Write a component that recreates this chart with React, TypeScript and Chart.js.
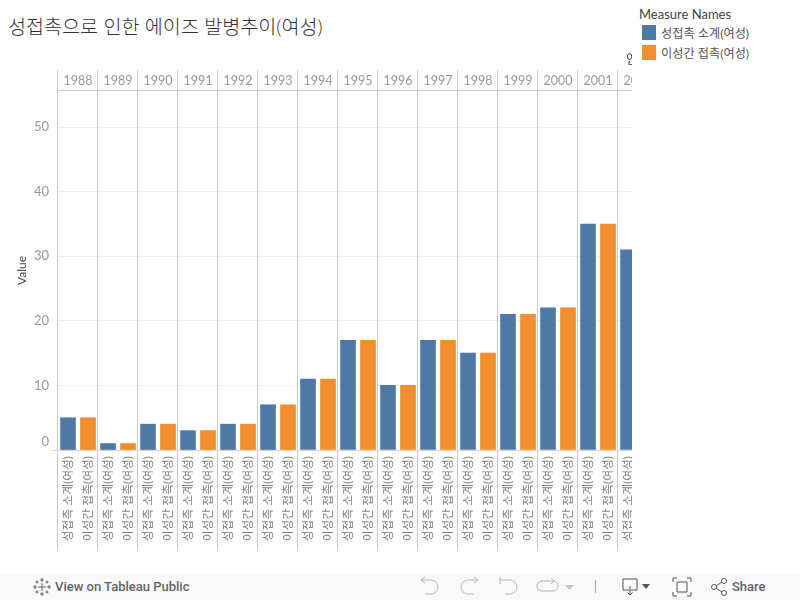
import React, { useEffect, useRef } from "react";
import { Chart, registerables } from "chart.js";

Chart.register(...registerables);

const years = ["1988","1989","1990","1991","1992","1993","1994","1995","1996","1997","1998","1999","2000","2001","2002"];
const seriesTotal = [5, 1, 4, 3, 4, 7, 11, 17, 10, 17, 15, 21, 22, 35, 31];
const seriesHetero = [5, 1, 4, 3, 4, 7, 11, 17, 10, 17, 15, 21, 22, 35, 31];
const nameTotal = "성접촉 소계(여성)";
const nameHetero = "이성간 접촉(여성)";
const titleText = "성접촉으로 인한 에이즈 발병추이(여성)";
const headerTitle = "연도";
const yTicks = [0, 10, 20, 30, 40, 50];

const BLUE = "#4e79a7";
const ORANGE = "#f28e2b";
const FONT = 'Lato, "Noto Sans CJK KR", sans-serif';

const categories = years.flatMap((y) => [y + "|" + nameTotal, y + "|" + nameHetero]);
const blueData = years.flatMap((_, i) => [seriesTotal[i], null]);
const orangeData = years.flatMap((_, i) => [null, seriesHetero[i]]);

const framePlugin = {
  id: "frame",
  beforeDatasetsDraw(chart: any) {
    const { ctx, chartArea, scales } = chart;
    const yearAxis = scales.yearAxis;
    const half = (yearAxis.getPixelForTick(1) - yearAxis.getPixelForTick(0)) / 2;
    ctx.save();
    ctx.strokeStyle = "#c8c8c8";
    ctx.lineWidth = 1;
    ctx.beginPath();
    years.forEach((_, i) => {
      const x = Math.round(yearAxis.getPixelForTick(i) - half) + 0.5;
      ctx.moveTo(x - 1, 70);
      ctx.lineTo(x - 1, 550);
    });
    ctx.moveTo(chartArea.left - 1, Math.round(chartArea.top) - 0.5);
    ctx.lineTo(chart.width, Math.round(chartArea.top) - 0.5);
    ctx.stroke();
    ctx.restore();
  },
  afterDatasetsDraw(chart: any) {
    const { ctx, chartArea, scales } = chart;
    ctx.save();
    ctx.strokeStyle = "#d4d4d4";
    ctx.lineWidth = 1;
    ctx.beginPath();
    ctx.moveTo(52, Math.round(chartArea.bottom) + 0.5);
    ctx.lineTo(chart.width, Math.round(chartArea.bottom) + 0.5);
    ctx.stroke();
    ctx.fillStyle = "#999999";
    ctx.font = "13px " + FONT;
    ctx.textAlign = "right";
    ctx.textBaseline = "middle";
    ctx.fillText("0", 49, scales.y.getPixelForValue(0) - 8);
    ctx.fillStyle = "#333333";
    ctx.textAlign = "left";
    ctx.font = "12px " + FONT;
    ctx.fillText(headerTitle, 626, 60);
    ctx.restore();
  },
};

function Icon({ x, children }: { x: number; children: React.ReactNode }) {
  return (
    <svg width="28" height="24" viewBox="0 0 28 24" style={{ position: "absolute", left: x, top: 2 }}
      fill="none" stroke="#b5b5b5" strokeWidth="1">
      {children}
    </svg>
  );
}

export default function App() {
  const ref = useRef<HTMLCanvasElement>(null);
  useEffect(() => {
    const chart = new Chart(ref.current!, {
      type: "bar",
      data: {
        labels: categories,
        datasets: [
          { label: nameTotal, data: blueData, backgroundColor: BLUE, barThickness: 15, stack: "s" },
          { label: nameHetero, data: orangeData, backgroundColor: ORANGE, barThickness: 15, stack: "s" },
        ],
      },
      options: {
        animation: false,
        responsive: false,
        layout: { padding: { left: 0, right: 0, top: 70, bottom: 50 } },
        plugins: { legend: { display: false }, title: { display: false }, tooltip: { enabled: false } },
        scales: {
          x: {
            stacked: true,
            position: "bottom",
            grid: { display: false, drawTicks: false },
            border: { display: false },
            afterFit: (s: any) => { s.height = 100; s.paddingLeft = 0; s.paddingRight = 0; },
            ticks: {
              autoSkip: false, minRotation: 90, maxRotation: 90, padding: 6, color: "#808080",
              font: { family: FONT, size: 11.8 },
              callback(this: any, v: any) { return String(this.getLabelForValue(v)).split("|")[1]; },
            },
          },
          yearAxis: {
            type: "category",
            labels: years,
            position: "top",
            grid: { display: false, drawTicks: false },
            border: { display: false },
            afterFit: (s: any) => { s.height = 21; s.paddingLeft = 0; s.paddingRight = 0; },
            ticks: { autoSkip: false, maxRotation: 0, color: "#999999", padding: 3, font: { family: FONT, size: 12.5 } },
          },
          y: {
            stacked: true,
            min: 0,
            max: 55.6,
            position: "left",
            afterFit: (s: any) => { s.width = 58; },
            afterBuildTicks: (s: any) => { s.ticks = yTicks.map((value) => ({ value })); },
            grid: { color: "#f0f0f0", drawTicks: false },
            border: { display: false },
            title: { display: true, text: "Value", color: "#444444", font: { family: FONT, size: 12 }, padding: { top: 15, bottom: 0 } },
            ticks: {
              includeBounds: false, padding: 9, color: "#999999", font: { family: FONT, size: 13 },
              callback: (v: any) => (v === 0 ? "" : String(v)),
            },
          },
        },
      },
      plugins: [framePlugin],
    } as any);
    return () => chart.destroy();
  }, []);

  return (
    <div style={{ position: "absolute", left: 0, top: 0, width: 800, height: 600, overflow: "hidden", background: "#fff", fontFamily: FONT }}>
      <div style={{ position: "absolute", left: 8, top: 13, fontSize: 19.6, lineHeight: "28px", color: "#333", fontWeight: 300, whiteSpace: "nowrap" }}>{titleText}</div>
      <div style={{ position: "absolute", left: 0, top: 0, width: 632, height: 600, overflow: "hidden" }}>
        <canvas ref={ref} width={658} height={600} style={{ display: "block", width: 658, height: 600 }} />
      </div>
      <div style={{ position: "absolute", left: 639, top: 6, fontSize: 13, lineHeight: "16px", color: "#444", whiteSpace: "nowrap" }}>Measure Names</div>
      {[[nameTotal, BLUE, 25], [nameHetero, ORANGE, 45]].map(([n, c, t]) => (
        <React.Fragment key={n as string}>
          <div style={{ position: "absolute", left: 642, top: t as number, width: 14, height: 15, background: c as string }} />
          <div style={{ position: "absolute", left: 661, top: (t as number) + 1, fontSize: 12.2, lineHeight: "16px", color: "#555", whiteSpace: "nowrap" }}>{n}</div>
        </React.Fragment>
      ))}
      <div style={{ position: "absolute", left: 0, top: 573, width: 800, height: 27, background: "#f9f9f9" }}>
        <svg width="20" height="20" viewBox="0 0 20 20" style={{ position: "absolute", left: 32, top: 4 }} stroke="#666" strokeWidth="1">
          <path d="M10 6v8M6 10h8M10 1v4M8 3h4M10 15v4M8 17h4M1 10h4M3 8v4M15 10h4M17 8v4M5 3.500v3M3.500 5h3M15 3.500v3M13.500 5h3M5 13.500v3M3.500 15h3M15 13.500v3M13.500 15h3" fill="none" />
        </svg>
        <div style={{ position: "absolute", left: 55, top: 5, fontSize: 13, lineHeight: "18px", color: "#666", fontWeight: 500, fontFamily: "Roboto, sans-serif" , whiteSpace: "nowrap" }}>View on Tableau Public</div>
        <Icon x={416}><path d="M5 5h10a7 7 0 0 1 0 14H9M5 5l4-3M5 5l4 3" /></Icon>
        <Icon x={456}><path d="M22 5H12a7 7 0 0 0 0 14h6M22 5l-4-3M22 5l-4 3" /></Icon>
        <Icon x={496}><path d="M4 2v7M4 5h10a7 7 0 0 1 0 14H9" /></Icon>
        <Icon x={535}><path d="M6 6h12a4 4 0 0 1 0 10H7a4 4 0 0 1 0-10M16 3l3 3-3 3" /></Icon>
        <svg width="12" height="8" style={{ position: "absolute", left: 564, top: 11 }}><path d="M1 1h9l-4.5 5z" fill="#c4c4c4" /></svg>
        <div style={{ position: "absolute", left: 595, top: 7, width: 1, height: 13, background: "#aaa" }} />
        <svg width="24" height="22" viewBox="0 0 24 22" style={{ position: "absolute", left: 621, top: 3 }} fill="none" stroke="#555" strokeWidth="1">
          <path d="M8 14H2V3h14v11h-6M9 10v9M6.500 16.500L9 19l2.500-2.500" />
        </svg>
        <svg width="10" height="6" style={{ position: "absolute", left: 642, top: 11 }}><path d="M0 0h8l-4 5z" fill="#555" /></svg>
        <svg width="20" height="20" viewBox="0 0 20 20" style={{ position: "absolute", left: 672, top: 4 }} fill="none" stroke="#555" strokeWidth="1">
          <path d="M1 5V1h4M15 1h4v4M19 15v4h-4M5 19H1v-4M5 5h10v10H5z" />
        </svg>
        <svg width="20" height="20" viewBox="0 0 20 20" style={{ position: "absolute", left: 710, top: 4 }} fill="none" stroke="#555" strokeWidth="1">
          <circle cx="4" cy="10" r="2.500" /><circle cx="14" cy="4" r="2.500" /><circle cx="14" cy="16" r="2.500" />
          <path d="M6 9l6-4M6 11l6 4" />
        </svg>
        <div style={{ position: "absolute", left: 732, top: 5, fontSize: 13, lineHeight: "18px", color: "#666", fontWeight: 500, fontFamily: "Roboto, sans-serif" }}>Share</div>
      </div>
    </div>
  );
}
